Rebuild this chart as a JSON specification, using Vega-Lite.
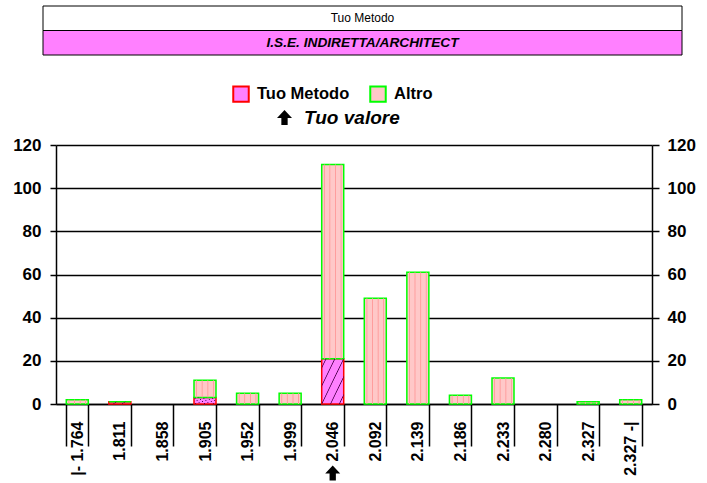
{
  "$schema": "https://vega.github.io/schema/vega-lite/v6.json",
  "padding": {"left": 12, "top": 5, "right": 0, "bottom": 0},
  "spacing": 80,
  "config": {
    "font": "Liberation Sans",
    "view": {"stroke": null},
    "axis": {"labelFont": "Liberation Sans", "labelColor": "black", "labelFontWeight": "bold", "domainColor": "black", "tickColor": "black", "gridColor": "black"},
    "legend": {"labelFont": "Liberation Sans", "labelColor": "black", "padding": 0}
  },
  "vconcat": [
    {
      "width": 639,
      "height": 49,
      "data": {"values": [
        {"row": "r1", "text": "Tuo Metodo"},
        {"row": "r2", "text": "I.S.E. INDIRETTA/ARCHITECT"}
      ]},
      "encoding": {
        "y": {"field": "row", "type": "nominal", "scale": {"paddingInner": 0, "paddingOuter": 0}, "axis": null}
      },
      "layer": [
        {
          "mark": {"type": "rect", "stroke": "black", "strokeWidth": 1},
          "encoding": {
            "fill": {"condition": {"test": "datum.row === 'r1'", "value": "#FFFFFF"}, "value": "#FF80FF"}
          }
        },
        {
          "transform": [{"filter": "datum.row === 'r1'"}],
          "mark": {"type": "text", "font": "Liberation Sans", "fontSize": 12, "color": "black"},
          "encoding": {"text": {"field": "text"}}
        },
        {
          "transform": [{"filter": "datum.row === 'r2'"}],
          "mark": {"type": "text", "font": "Liberation Sans", "fontSize": 13.7, "fontWeight": "bold", "fontStyle": "italic", "color": "black"},
          "encoding": {"text": {"field": "text"}}
        }
      ]
    },
    {
      "spacing": -32,
      "hconcat": [
        {
          "width": 1,
          "height": 259,
          "data": {"values": [{}]},
          "mark": {"type": "rect", "opacity": 0}
        },
        {
          "width": 596,
          "height": 259,
          "data": {"values": [
            {"bin": "|- 1.764", "series": "Altro", "count": 2},
            {"bin": "1.811", "series": "Tuo Metodo", "count": 1},
            {"bin": "1.811", "series": "Altro", "count": 0},
            {"bin": "1.905", "series": "Tuo Metodo", "count": 3},
            {"bin": "1.905", "series": "Altro", "count": 8},
            {"bin": "1.952", "series": "Altro", "count": 5},
            {"bin": "1.999", "series": "Altro", "count": 5},
            {"bin": "2.046", "series": "Tuo Metodo", "count": 21},
            {"bin": "2.046", "series": "Altro", "count": 90},
            {"bin": "2.092", "series": "Altro", "count": 49},
            {"bin": "2.139", "series": "Altro", "count": 61},
            {"bin": "2.186", "series": "Altro", "count": 4},
            {"bin": "2.233", "series": "Altro", "count": 12},
            {"bin": "2.327", "series": "Altro", "count": 1},
            {"bin": "2.327 -|", "series": "Altro", "count": 2}
          ]},
          "layer": [
            {
              "layer": [
                {
                  "mark": {"type": "bar", "strokeWidth": 1.5},
                  "encoding": {
                    "x": {"field": "bin", "type": "nominal",
                      "scale": {"domain": ["|- 1.764", "1.811", "1.858", "1.905", "1.952", "1.999", "2.046", "2.092", "2.139", "2.186", "2.233", "2.280", "2.327", "2.327 -|"], "paddingInner": 0.483, "paddingOuter": 0.2415},
                      "axis": {"title": null, "labelAngle": 270, "labelAlign": "right", "labelBaseline": "middle", "labelFontSize": 16, "labelOverlap": false, "tickBand": "extent", "tickSize": 42, "tickWidth": 1.5, "labelPadding": -25, "domainWidth": 1.5}},
                    "y": {"field": "count", "type": "quantitative", "stack": "zero", "scale": {"domain": [0, 120], "nice": false},
                      "axis": {"title": null, "orient": "left", "values": [0, 20, 40, 60, 80, 100, 120], "grid": true, "gridWidth": 1.5, "tickSize": 6, "tickWidth": 1.5, "labelFontSize": 17, "labelPadding": 9, "domainWidth": 1.5}},
                    "fill": {"field": "series", "type": "nominal", "scale": {"domain": ["Tuo Metodo", "Altro"], "range": ["#FF80FF", "#FFC8C8"]},
                      "legend": {"orient": "none", "legendX": 189, "legendY": 79, "direction": "horizontal", "title": null, "symbolType": "square", "symbolSize": 240, "symbolStrokeWidth": 2, "labelFontSize": 16.5, "labelFontWeight": "bold", "labelOffset": 7, "columnPadding": 16}},
                    "stroke": {"field": "series", "type": "nominal", "scale": {"domain": ["Tuo Metodo", "Altro"], "range": ["#FF0000", "#00FF00"]},
                      "legend": {"orient": "none", "legendX": 189, "legendY": 79, "direction": "horizontal", "title": null, "symbolType": "square", "symbolSize": 240, "symbolStrokeWidth": 2, "labelFontSize": 16.5, "labelFontWeight": "bold", "labelOffset": 7, "columnPadding": 16}},
                    "order": {"field": "series", "sort": "descending"}
                  }
                },
                {
                  "data": {"values": [{"bin": "2.046", "marker": "Tuo valore"}]},
                  "mark": {"type": "point", "filled": true, "size": 225, "opacity": 1, "color": "black"},
                  "encoding": {
                    "x": {"field": "bin", "type": "nominal"},
                    "y": {"datum": -32, "type": "quantitative"},
                    "shape": {"field": "marker", "type": "nominal", "scale": {"range": ["M0,-1L1,0.05L0.42,0.05L0.42,1L-0.42,1L-0.42,0.05L-1,0.05Z"]},
                      "legend": {"orient": "none", "legendX": 232, "legendY": 102, "title": null, "symbolSize": 225, "symbolFillColor": "black", "symbolStrokeColor": "black", "symbolStrokeWidth": 0, "labelFontSize": 19, "labelFontWeight": "bold", "labelFontStyle": "italic", "labelOffset": 10}}
                  }
                }
              ]
            },
            {
              "mark": {"type": "bar", "strokeWidth": 0},
              "encoding": {
                "x": {"field": "bin", "type": "nominal"},
                "y": {"field": "count", "type": "quantitative", "stack": "zero", "scale": {"domain": [0, 120], "nice": false},
                  "axis": {"title": null, "orient": "right", "values": [0, 20, 40, 60, 80, 100, 120], "grid": false, "tickSize": 7, "tickWidth": 1.5, "labelFontSize": 17, "labelPadding": 8, "domainWidth": 1.5}},
                "fill": {
                  "condition": {"test": "datum.series === 'Altro'", "value": {"gradient": "linear", "x1": 0, "y1": 0, "x2": 1, "y2": 0, "stops": [
                    {"offset": 0, "color": "rgba(255,150,150,0)"},
                    {"offset": 0.08, "color": "rgba(255,150,150,0)"},
                    {"offset": 0.12, "color": "#FF9A9A"},
                    {"offset": 0.16, "color": "rgba(255,150,150,0)"},
                    {"offset": 0.33, "color": "rgba(255,150,150,0)"},
                    {"offset": 0.37, "color": "#FF9A9A"},
                    {"offset": 0.41, "color": "rgba(255,150,150,0)"},
                    {"offset": 0.59, "color": "rgba(255,150,150,0)"},
                    {"offset": 0.63, "color": "#FF9A9A"},
                    {"offset": 0.67, "color": "rgba(255,150,150,0)"},
                    {"offset": 0.84, "color": "rgba(255,150,150,0)"},
                    {"offset": 0.88, "color": "#FF9A9A"},
                    {"offset": 0.92, "color": "rgba(255,150,150,0)"},
                    {"offset": 1, "color": "rgba(255,150,150,0)"}
                  ]}},
                  "value": {"gradient": "linear", "x1": 0, "y1": 0, "x2": 1, "y2": 1, "stops": [
                    {"offset": 0, "color": "rgba(80,0,80,0)"},
                    {"offset": 0.08, "color": "rgba(80,0,80,0)"},
                    {"offset": 0.1, "color": "#500050"},
                    {"offset": 0.12, "color": "rgba(80,0,80,0)"},
                    {"offset": 0.28, "color": "rgba(80,0,80,0)"},
                    {"offset": 0.3, "color": "#500050"},
                    {"offset": 0.32, "color": "rgba(80,0,80,0)"},
                    {"offset": 0.48, "color": "rgba(80,0,80,0)"},
                    {"offset": 0.5, "color": "#500050"},
                    {"offset": 0.52, "color": "rgba(80,0,80,0)"},
                    {"offset": 0.68, "color": "rgba(80,0,80,0)"},
                    {"offset": 0.7, "color": "#500050"},
                    {"offset": 0.72, "color": "rgba(80,0,80,0)"},
                    {"offset": 0.88, "color": "rgba(80,0,80,0)"},
                    {"offset": 0.9, "color": "#500050"},
                    {"offset": 0.92, "color": "rgba(80,0,80,0)"},
                    {"offset": 1, "color": "rgba(80,0,80,0)"}
                  ]}
                },
                "order": {"field": "series", "sort": "descending"}
              }
            }
          ],
          "resolve": {"scale": {"y": "independent"}}
        }
      ]
    }
  ]
}
